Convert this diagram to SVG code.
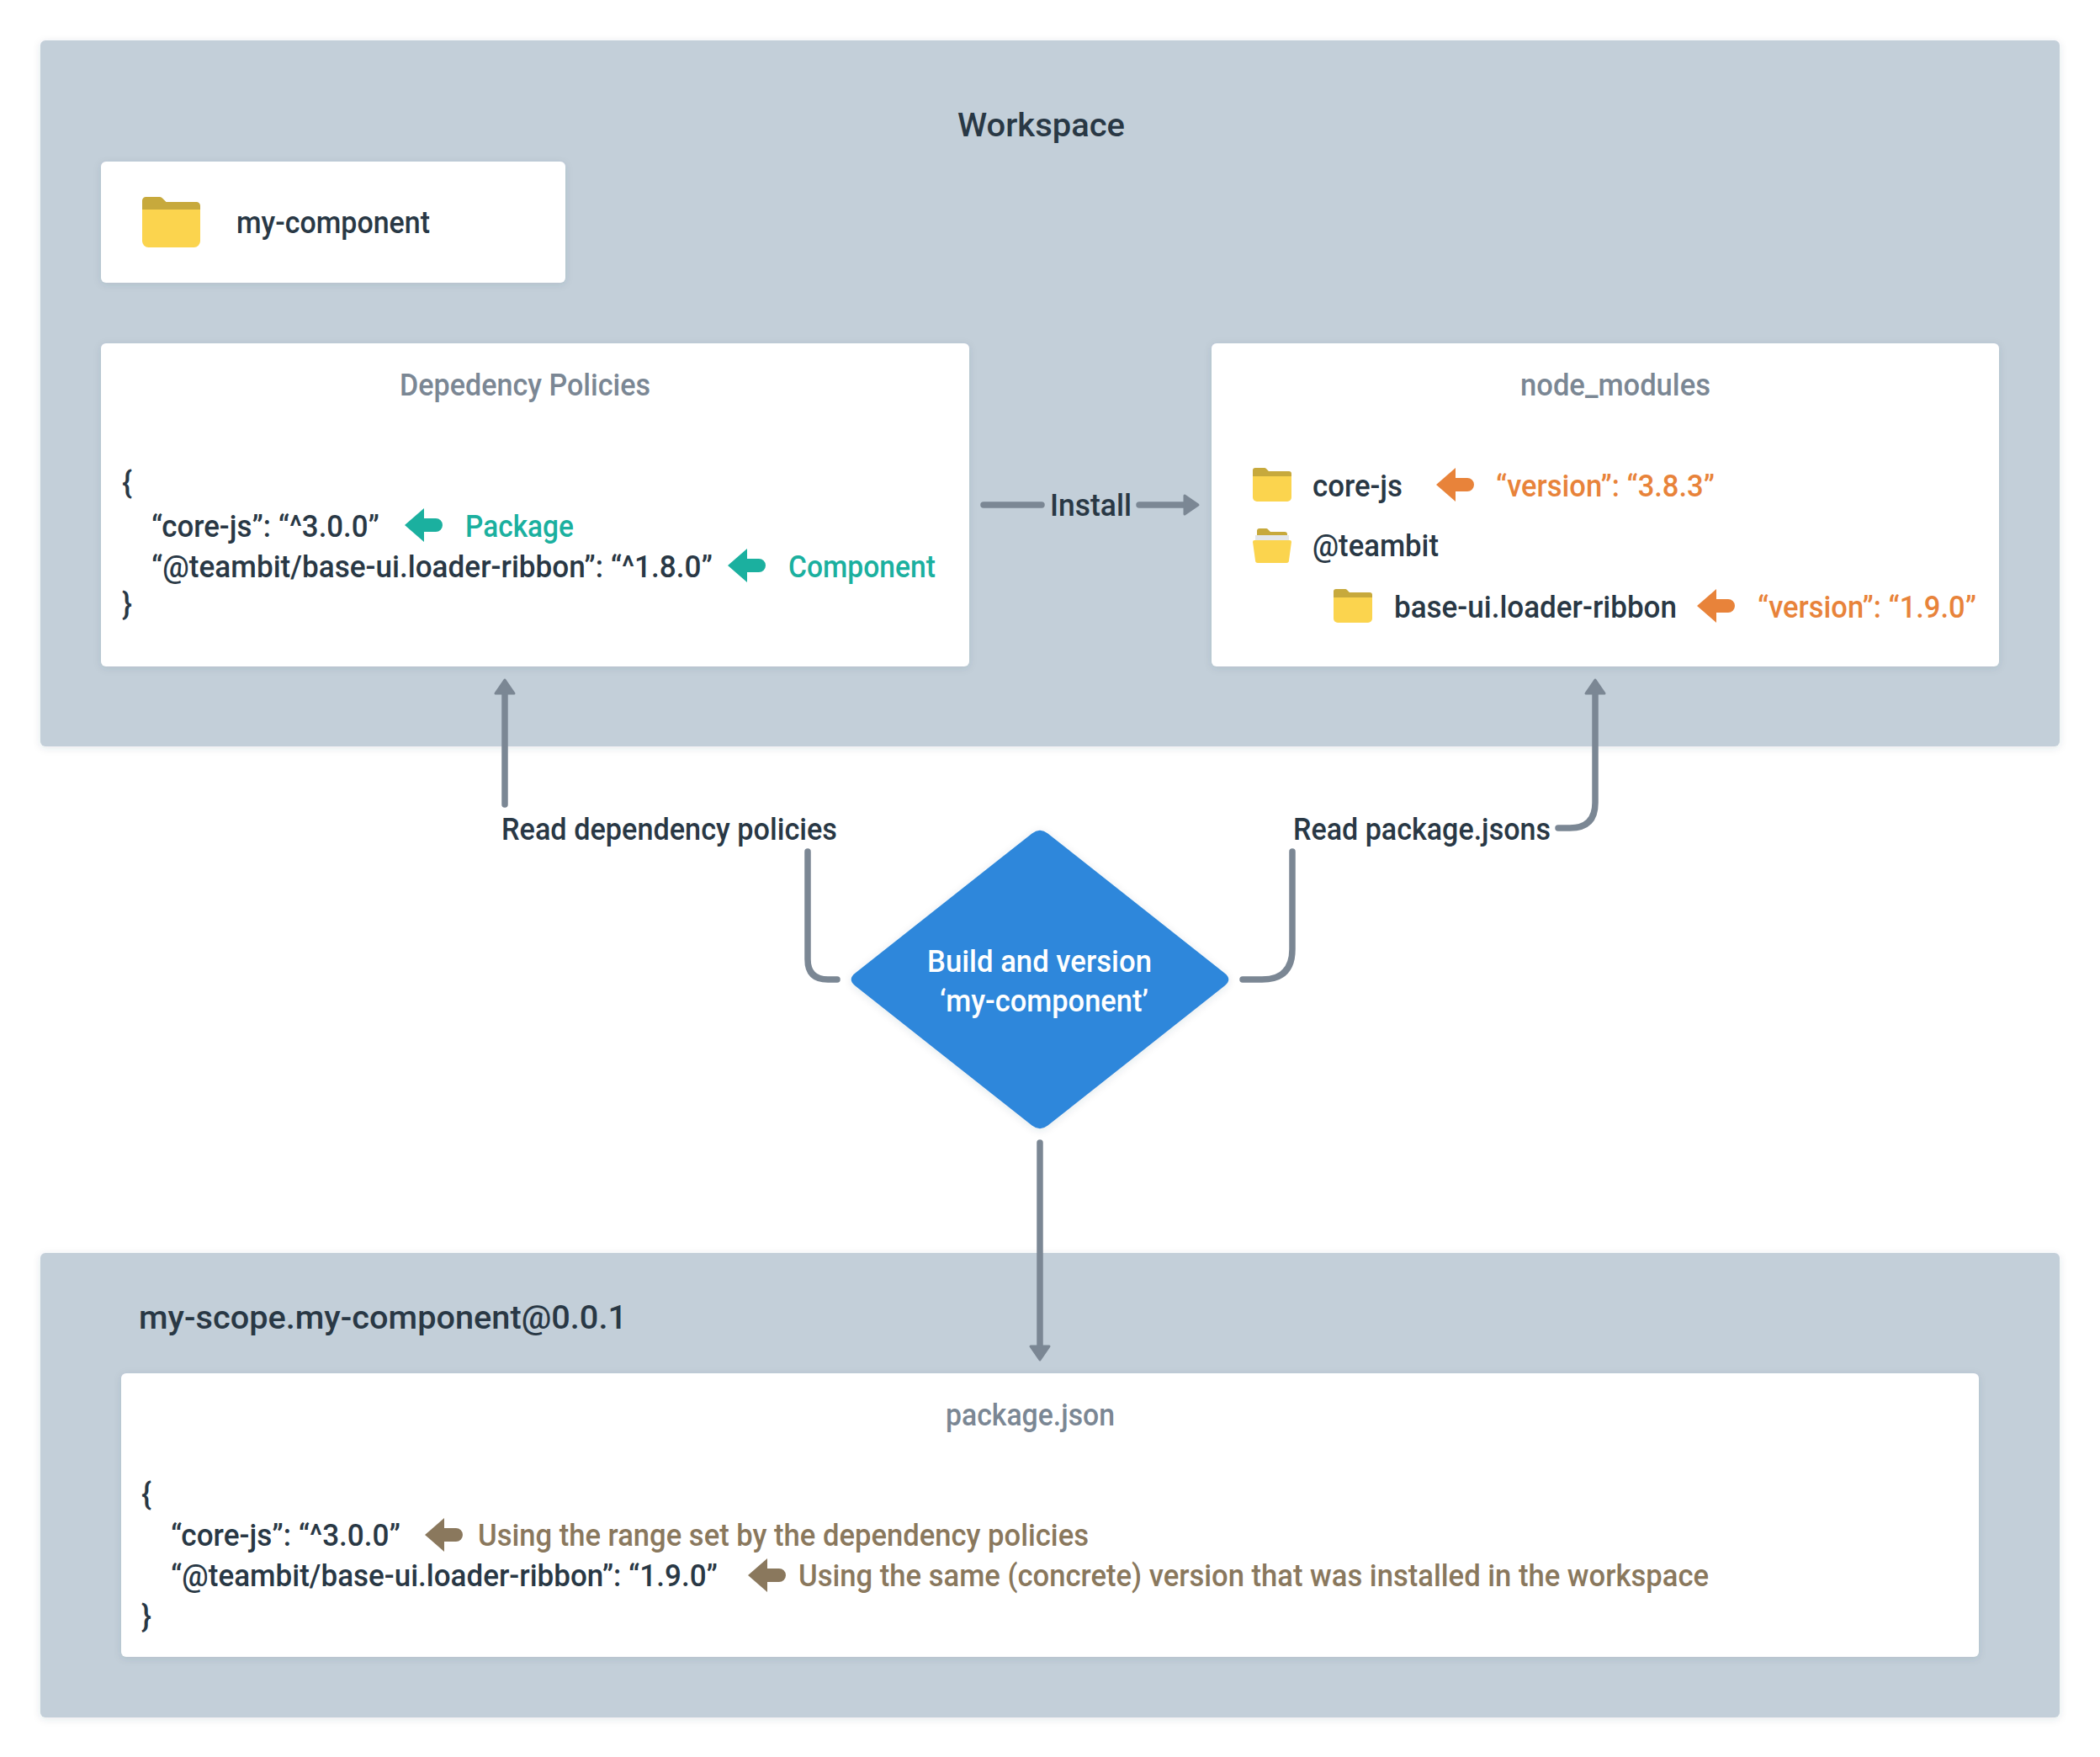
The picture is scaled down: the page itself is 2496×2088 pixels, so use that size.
<svg xmlns="http://www.w3.org/2000/svg" width="2496" height="2088" viewBox="0 0 2496 2088">
<style>
text{font-family:Roboto,"Liberation Sans",sans-serif;font-size:36px;font-weight:500;fill:#293845}
.t{fill:#7b8794}.g{fill:#1bb09f}.o{fill:#e8833a}.b{fill:#8a785d}.w{fill:#fff}
.lg{font-size:39px}
.panel{fill:#c3cfd9;filter:url(#s)}
.card{fill:#fff;filter:url(#s)}
.conn{fill:none;stroke:#7b8794;stroke-width:7.5;stroke-linecap:round;stroke-linejoin:round}
.fa{fill:#c7a93c}.fb{fill:#fbd44e}
</style>
<defs>
<filter id="s" x="-5%" y="-5%" width="110%" height="115%"><feDropShadow dx="0" dy="2" stdDeviation="5" flood-color="#3e4c59" flood-opacity=".12"/></filter>
<marker id="ah" markerUnits="userSpaceOnUse" markerWidth="30" markerHeight="30" viewBox="0 0 30 30" refX="11" refY="15" orient="auto"><path d="M3 4V26L19 15Z" fill="#7b8794" stroke="#7b8794" stroke-width="3" stroke-linejoin="round"/></marker>
<path id="ptr" d="M0 20L23 0V12H37A8 8 0 0 1 37 28H23V40Z"/>
<g id="folder"><path class="fb" d="M0 10H46V35a5 5 0 0 1-5 5H5a5 5 0 0 1-5-5Z"/><path class="fa" d="M0 3a3 3 0 0 1 3-3H14a3 3 0 0 1 2 1L19 4H43a3 3 0 0 1 3 3V10H0Z"/></g>
</defs>

<g id="workspace"><rect class="panel" x="48" y="48" width="2400" height="839" rx="6"/><text class="lg" x="1138" y="162" textLength="199" lengthAdjust="spacingAndGlyphs">Workspace</text></g>

<g id="my-component"><rect class="card" x="120" y="192" width="552" height="144" rx="6"/>
<use href="#folder" transform="translate(169 234) scale(1.5)"/>
<text x="281" y="277" textLength="230" lengthAdjust="spacingAndGlyphs">my-component</text></g>

<g id="dependency-policies"><rect class="card" x="120" y="408" width="1032" height="384" rx="6"/>
<text class="t" x="475" y="470" textLength="298" lengthAdjust="spacingAndGlyphs">Depedency Policies</text>
<text x="145" y="586">{</text>
<text x="180" y="638" textLength="271" lengthAdjust="spacingAndGlyphs">“core-js”: “^3.0.0”</text>
<use href="#ptr" class="g" x="481" y="604"/>
<text class="g" x="553" y="638" textLength="129" lengthAdjust="spacingAndGlyphs">Package</text>
<text x="180" y="686" textLength="667" lengthAdjust="spacingAndGlyphs">“@teambit/base-ui.loader-ribbon”: “^1.8.0”</text>
<use href="#ptr" class="g" x="865" y="652"/>
<text class="g" x="937" y="686" textLength="175" lengthAdjust="spacingAndGlyphs">Component</text>
<text x="145" y="730">}</text></g>

<g id="node-modules"><rect class="card" x="1440" y="408" width="936" height="384" rx="6"/>
<text class="t" x="1807" y="470" textLength="226" lengthAdjust="spacingAndGlyphs">node_modules</text>
<use href="#folder" x="1489" y="556"/>
<text x="1560" y="590" textLength="107" lengthAdjust="spacingAndGlyphs">core-js</text>
<use href="#ptr" class="o" x="1707" y="556"/>
<text class="o" x="1778" y="590" textLength="260" lengthAdjust="spacingAndGlyphs">“version”: “3.8.3”</text>
<path class="fa" d="M1494 631a3 3 0 0 1 3-3H1505a3 3 0 0 1 2 1L1510 632H1527a3 3 0 0 1 3 3V646H1494Z"/>
<rect x="1492" y="636" width="40" height="10" fill="#e4e7eb"/>
<path class="fb" d="M1491 642H1533a2 2 0 0 1 2 2L1532 666a3 3 0 0 1-3 3H1495a3 3 0 0 1-3-3L1489 644a2 2 0 0 1 2-2Z"/>
<text x="1560" y="661" textLength="150" lengthAdjust="spacingAndGlyphs">@teambit</text>
<use href="#folder" x="1585" y="700"/>
<text x="1657" y="734" textLength="336" lengthAdjust="spacingAndGlyphs">base-ui.loader-ribbon</text>
<use href="#ptr" class="o" x="2017" y="700"/>
<text class="o" x="2089" y="734" textLength="260" lengthAdjust="spacingAndGlyphs">“version”: “1.9.0”</text></g>

<g id="package"><rect class="panel" x="48" y="1489" width="2400" height="552" rx="6"/>
<text class="lg" x="165" y="1579" textLength="580" lengthAdjust="spacingAndGlyphs">my-scope.my-component@0.0.1</text>
<rect class="card" x="144" y="1632" width="2208" height="337" rx="6"/>
<text class="t" x="1124" y="1694" textLength="201" lengthAdjust="spacingAndGlyphs">package.json</text>
<text x="168" y="1788">{</text>
<text x="203" y="1837" textLength="273" lengthAdjust="spacingAndGlyphs">“core-js”: “^3.0.0”</text>
<use href="#ptr" class="b" x="505" y="1804"/>
<text class="b" x="568" y="1837" textLength="726" lengthAdjust="spacingAndGlyphs">Using the range set by the dependency policies</text>
<text x="203" y="1885" textLength="650" lengthAdjust="spacingAndGlyphs">“@teambit/base-ui.loader-ribbon”: “1.9.0”</text>
<use href="#ptr" class="b" x="889" y="1852"/>
<text class="b" x="949" y="1885" textLength="1082" lengthAdjust="spacingAndGlyphs">Using the same (concrete) version that was installed in the workspace</text>
<text x="168" y="1933">}</text></g>

<g id="build"><path d="M1226.6 990.4Q1236 983 1245.4 990.4L1455.6 1156.6Q1465 1164 1455.6 1171.4L1245.4 1337.6Q1236 1345 1226.6 1337.6L1016.4 1171.4Q1007 1164 1016.4 1156.6Z" fill="#2d87db" filter="url(#s)"/>
<text class="w" x="1102" y="1155" textLength="267" lengthAdjust="spacingAndGlyphs">Build and version</text>
<text class="w" x="1117" y="1202" textLength="248" lengthAdjust="spacingAndGlyphs">‘my-component’</text></g>

<g id="connectors">
<path class="conn" d="M1169 600H1238"/>
<path class="conn" d="M1354 600H1416" marker-end="url(#ah)"/>
<text x="1248" y="613" textLength="97" lengthAdjust="spacingAndGlyphs">Install</text>
<path class="conn" d="M995 1164H984Q960 1164 960 1140V1012"/>
<path class="conn" d="M600 956V816" marker-end="url(#ah)"/>
<text x="596" y="998" textLength="399" lengthAdjust="spacingAndGlyphs">Read dependency policies</text>
<path class="conn" d="M1477 1164H1500Q1536 1164 1536 1128V1012"/>
<path class="conn" d="M1852 984H1866Q1896 984 1896 954V816" marker-end="url(#ah)"/>
<text x="1537" y="998" textLength="306" lengthAdjust="spacingAndGlyphs">Read package.jsons</text>
<path class="conn" d="M1236 1358V1608" marker-end="url(#ah)"/>
</g>
</svg>
